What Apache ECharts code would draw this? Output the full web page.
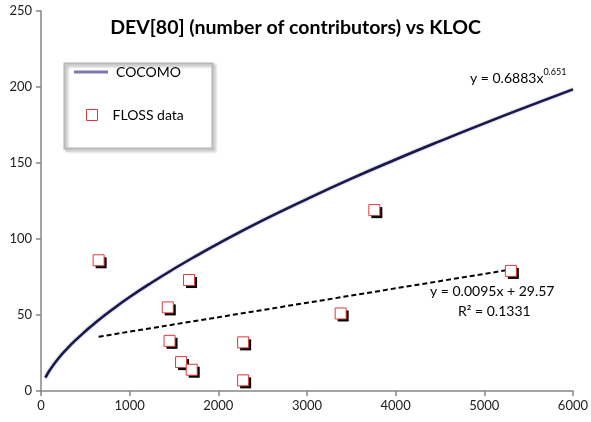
<!DOCTYPE html>
<html>
<head>
<meta charset="utf-8">
<script src="https://cdn.jsdelivr.net/npm/echarts@6/dist/echarts.min.js"></script>
<style>
	html, body { margin: 0; padding: 0; background: #fff; }
	#chart { width: 591px; height: 422px; }
</style>
</head>
<body>
<div id="chart"></div>
<script>
// COCOMO curve
const cocomoX = [50, 100, 200, 300, 400, 500, 600, 800, 1000, 1250, 1500, 1750, 2000, 2500, 3000, 3500, 4000, 4500, 5000, 5500, 6000]
const cocomoY = [8.8, 13.8, 21.7, 28.2, 34.0, 39.3, 44.3, 53.4, 61.8, 71.4, 80.4, 88.9, 97.0, 112.2, 126.3, 139.7, 152.3, 164.4, 176.1, 187.4, 198.4]

// FLOSS data points
const flossX = [650, 1670, 1430, 1450, 1580, 1700, 2280, 2280, 3760, 5300, 3380]
const flossY = [86, 73, 55, 33, 19, 14, 32, 7, 119, 79, 51]

// linear trend line end points
const trendX = [650, 5300]
const trendY = [35.7, 79.9]

const xTicks = [0, 1000, 2000, 3000, 4000, 5000, 6000]
const yTicks = [0, 50, 100, 150, 200, 250]

const font = 'Lato, "DejaVu Sans", sans-serif'

const zip = (xs, ys) => xs.map((x, i) => [x, ys[i]])

const chart = echarts.init(document.getElementById('chart'))
chart.setOption({
	animation: false,
	textStyle: { fontFamily: font },
	title: {
		text: 'DEV[80] (number of contributors) vs KLOC',
		left: 'center',
		top: 13,
		textStyle: { fontSize: 19.5, fontWeight: 'bold', color: '#000', fontFamily: font }
	},
	grid: { left: 41, right: 16, top: 11, bottom: 31 },
	legend: [
		{
			left: 74,
			top: 65,
			padding: 0,
			itemWidth: 34,
			itemHeight: 3,
			icon: 'rect',
			data: [{ name: 'COCOMO', icon: 'rect', itemStyle: { color: '#7a7aab' }, lineStyle: { color: '#7a7aab', width: 3 } }],
			textStyle: { fontSize: 14, color: '#000', fontFamily: font, padding: [0, 0, 0, 3] }
		},
		{
			left: 86,
			top: 108,
			padding: 0,
			itemWidth: 11,
			itemHeight: 11,
			data: [{ name: 'FLOSS data', icon: 'path://M0,0H10V10H0Z', itemStyle: { color: '#fff', borderColor: '#e03838', borderWidth: 1 } }],
			textStyle: { fontSize: 14, color: '#000', fontFamily: font, padding: [0, 0, 0, 10] }
		}
	],
	graphic: [
		{
			type: 'rect',
			left: 62,
			top: 61,
			shape: { width: 148, height: 85 },
			style: { fill: 'none', stroke: '#b8b8b8', lineWidth: 2, shadowColor: 'rgba(0,0,0,0.35)', shadowBlur: 3, shadowOffsetX: 2, shadowOffsetY: 2 },
			z: -1
		},
		{
			type: 'text',
			left: 470,
			top: 68,
			style: {
				text: '{a|y = 0.6883x}{b|0.651}',
				rich: {
					a: { fontSize: 14, fontFamily: font, fill: '#000', verticalAlign: 'bottom' },
					b: { fontSize: 9, fontFamily: font, fill: '#000', verticalAlign: 'top', padding: [0, 0, 8, 0] }
				}
			}
		},
		{
			type: 'text',
			left: 430,
			top: 284,
			style: { text: 'y = 0.0095x + 29.57', fontSize: 14, fontFamily: font, fill: '#000' }
		},
		{
			type: 'text',
			left: 458,
			top: 304,
			style: { text: 'R² = 0.1331', fontSize: 14, fontFamily: font, fill: '#000' }
		}
	],
	xAxis: {
		type: 'value',
		min: xTicks[0],
		max: xTicks[xTicks.length - 1],
		interval: 1000,
		axisLine: { lineStyle: { color: '#868686', width: 1.5 } },
		axisTick: { show: true, length: 5, lineStyle: { color: '#868686', width: 1.5 } },
		axisLabel: { color: '#222', fontSize: 13, fontFamily: font, margin: 8, formatter: v => String(v) },
		splitLine: { show: false }
	},
	yAxis: {
		type: 'value',
		min: yTicks[0],
		max: yTicks[yTicks.length - 1],
		interval: 50,
		axisLine: { show: true, lineStyle: { color: '#868686', width: 1.5 } },
		axisTick: { show: true, length: 5, lineStyle: { color: '#868686', width: 1.5 } },
		axisLabel: { color: '#222', fontSize: 13, fontFamily: font, margin: 9, formatter: v => String(v) },
		splitLine: { show: false }
	},
	series: [
		{
			name: 'COCOMO',
			type: 'line',
			smooth: true,
			symbol: 'none',
			data: zip(cocomoX, cocomoY),
			lineStyle: { color: '#1a1a48', width: 2.5, shadowColor: '#8a8ac0', shadowBlur: 2 },
			z: 2
		},
		{
			name: 'trend',
			type: 'line',
			symbol: 'none',
			data: zip(trendX, trendY),
			lineStyle: { color: '#000', width: 2, type: [5, 3] },
			z: 3
		},
		{
			name: 'FLOSS shadow',
			type: 'scatter',
			symbol: 'rect',
			symbolSize: 11,
			symbolOffset: [2.5, 2.5],
			data: zip(flossX, flossY),
			itemStyle: { color: '#000', opacity: 1 },
			silent: true,
			z: 4
		},
		{
			name: 'FLOSS data',
			type: 'scatter',
			symbol: 'rect',
			symbolSize: 11,
			data: zip(flossX, flossY),
			itemStyle: { color: '#fff', borderColor: '#e03838', borderWidth: 1, opacity: 1 },
			z: 5
		}
	]
})
</script>
</body>
</html>
